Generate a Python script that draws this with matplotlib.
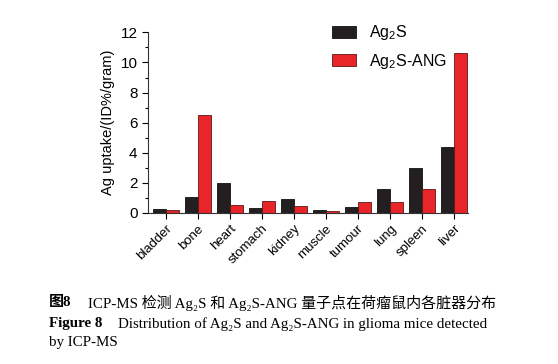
import numpy as np
import matplotlib
matplotlib.use("Agg")
import matplotlib.pyplot as plt
from matplotlib.ticker import MultipleLocator

organs = ['bladder', 'bone', 'heart', 'stomach', 'kidney', 'muscle',
          'tumour', 'lung', 'spleen', 'liver']
ag2s = [0.26, 1.04, 1.99, 0.31, 0.95, 0.20, 0.40, 1.59, 2.96, 4.39]
ag2s_ang = [0.18, 6.50, 0.55, 0.82, 0.49, 0.11, 0.75, 0.75, 1.57, 10.60]
series_names = ['Ag$_2$S', 'Ag$_2$S-ANG']

plt.rcParams['font.family'] = ['Liberation Sans', 'DejaVu Sans']
plt.rcParams['mathtext.default'] = 'regular'

fig = plt.figure(figsize=(5.58, 3.64), dpi=100)
ax = fig.add_axes([0.265, 0.415, 0.574, 0.496])

x = np.arange(len(organs))
w = 0.4
ax.bar(x - w / 2, ag2s, w, color='#231f20', edgecolor='#111111', linewidth=0.6,
       label=series_names[0])
ax.bar(x + w / 2, ag2s_ang, w, color='#e8262a', edgecolor='#5a1a1a', linewidth=0.6,
       label=series_names[1])

ax.set_xlim(-0.56, 9.44)
ax.set_ylim(0, 12)
ax.yaxis.set_major_locator(MultipleLocator(2))
ax.yaxis.set_minor_locator(MultipleLocator(1))
ax.set_xticks(x)
ax.set_xticklabels(organs, rotation=45, ha='right', rotation_mode='anchor', fontsize=9.5)
ax.tick_params(axis='y', labelsize=11, direction='out', length=4, width=0.8)
ax.tick_params(axis='y', which='minor', length=2.5, width=0.8)
ax.tick_params(axis='x', direction='out', length=4, width=0.8, pad=3)
for s in ['top', 'right']:
    ax.spines[s].set_visible(False)
for s in ['left', 'bottom']:
    ax.spines[s].set_color('#333333')
    ax.spines[s].set_linewidth(0.8)
ax.set_ylabel('Ag uptake/(ID%/gram)', fontsize=10.5, labelpad=4)

ax.legend(loc='upper left', bbox_to_anchor=(0.53, 1.13), frameon=False,
          fontsize=11.5, handlelength=1.5, handleheight=0.8, labelspacing=0.6,
          handletextpad=0.8)

serif = ['Liberation Serif', 'Noto Sans CJK SC', 'DejaVu Sans']
fs = 10.8
fig.text(0.088, 0.168, '图8', family=serif, fontsize=fs, fontweight='bold', va='center')
fig.text(0.158, 0.168, 'ICP-MS 检测 Ag₂S 和 Ag₂S-ANG 量子点在荷瘤鼠内各脏器分布',
         family=serif, fontsize=fs, va='center')
fig.text(0.088, 0.110, 'Figure 8', family=serif, fontsize=fs, fontweight='bold', va='center')
fig.text(0.211, 0.110, 'Distribution of Ag₂S and Ag₂S-ANG in glioma mice detected',
         family=serif, fontsize=fs, va='center')
fig.text(0.088, 0.058, 'by ICP-MS', family=serif, fontsize=fs, va='center')

fig.savefig('out.png', dpi=100)
